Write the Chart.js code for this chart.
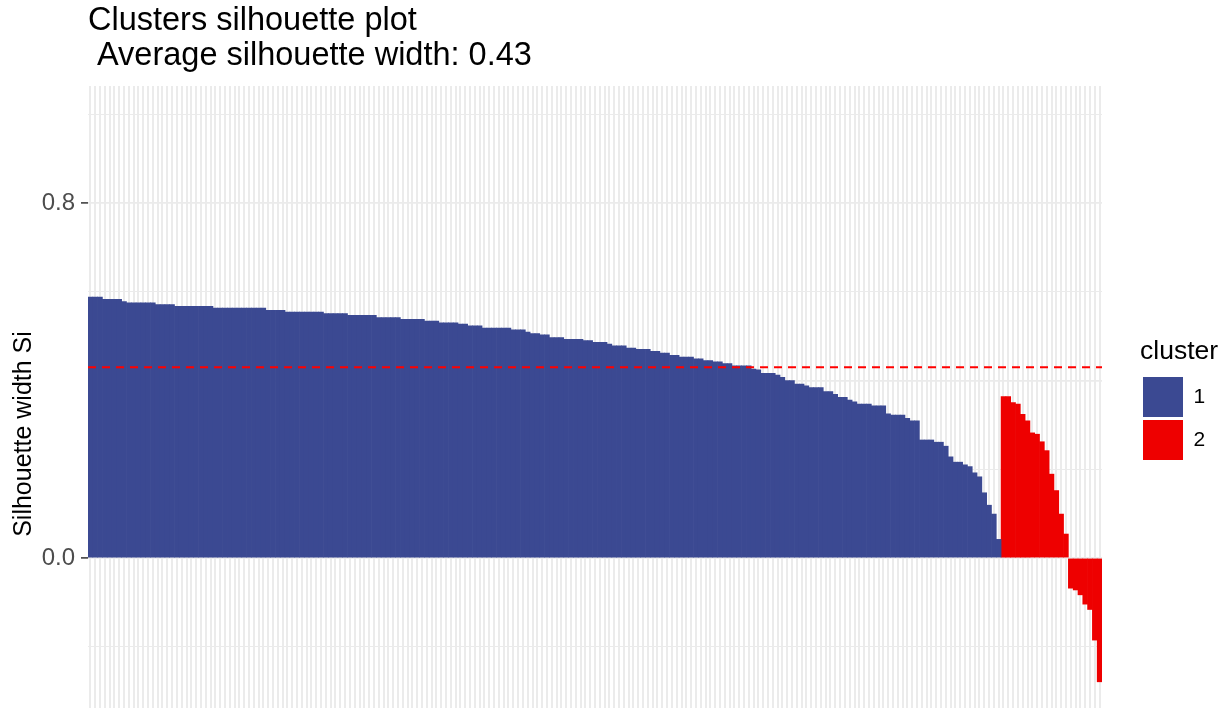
<!DOCTYPE html>
<html>
<head>
<meta charset="utf-8">
<script src="https://cdn.jsdelivr.net/npm/chart.js@4.4.1/dist/chart.umd.min.js"></script>
<style>
  html, body { margin: 0; padding: 0; background: #ffffff; overflow: hidden; }
  #wrap { width: 1227px; height: 708px; position: relative; overflow: hidden; }
</style>
</head>
<body>
<div id="wrap"><canvas id="chart" width="1227" height="782"></canvas></div>
<script>
// ---- data ----
const titleLines = ['Clusters silhouette plot', ' Average silhouette width: 0.43'];
const yAxisTitle = 'Silhouette width Si';
const legendTitle = 'cluster';
const clusterNames = ['1', '2'];
const averageWidth = 0.43;

const cluster1Values = [
  0.588,0.588,0.588,0.583,0.583,0.583,0.583,0.578,0.575,0.575,
  0.575,0.575,0.575,0.575,0.571,0.571,0.571,0.571,0.567,0.567,
  0.567,0.567,0.567,0.567,0.567,0.567,0.563,0.563,0.563,0.563,
  0.563,0.563,0.563,0.563,0.563,0.563,0.563,0.558,0.558,0.558,
  0.558,0.554,0.554,0.554,0.554,0.554,0.554,0.554,0.554,0.551,
  0.551,0.551,0.551,0.551,0.547,0.547,0.547,0.547,0.547,0.547,
  0.542,0.542,0.542,0.542,0.542,0.538,0.538,0.538,0.538,0.538,
  0.534,0.534,0.534,0.530,0.530,0.530,0.530,0.527,0.527,0.523,
  0.523,0.523,0.518,0.518,0.518,0.518,0.518,0.518,0.514,0.514,
  0.514,0.509,0.506,0.506,0.503,0.503,0.497,0.497,0.497,0.493,
  0.493,0.493,0.493,0.490,0.490,0.486,0.486,0.486,0.482,0.478,
  0.478,0.478,0.473,0.473,0.470,0.470,0.470,0.466,0.466,0.462,
  0.462,0.457,0.457,0.453,0.453,0.453,0.449,0.449,0.445,0.445,
  0.442,0.442,0.438,0.438,0.433,0.433,0.433,0.433,0.426,0.424,
  0.416,0.416,0.416,0.412,0.407,0.400,0.400,0.392,0.392,0.388,
  0.384,0.384,0.384,0.375,0.375,0.369,0.362,0.362,0.356,0.352,
  0.347,0.347,0.347,0.343,0.343,0.343,0.325,0.322,0.322,0.322,
  0.315,0.309,0.309,0.266,0.266,0.266,0.261,0.261,0.252,0.228,
  0.216,0.216,0.210,0.206,0.192,0.183,0.147,0.119,0.099,0.042
];
const cluster2Values = [
  0.364,0.364,0.350,0.347,0.324,0.309,0.282,0.279,0.262,0.242,
  0.189,0.152,0.099,0.054,-0.068,-0.072,-0.083,-0.104,-0.116,-0.185,
  -0.279
];

const yTickValues = [-0.4, -0.2, 0, 0.2, 0.4, 0.6, 0.8, 1.0];
const yMajorValues = [0, 0.4, 0.8];
const yLabelledValues = [0, 0.8];
const yTickLabels = ['0.0', '0.8'];

// ---- styles ----
const FONT = "'Liberation Sans', Arial, sans-serif";
const colors = ['#3B4992', '#EE0000'];
const gridColor = '#EBEBEB';
const legendBoxWidth = 87;

// ---- derived structures for the library ----
const allValues = cluster1Values.concat(cluster2Values);
const categories = allValues.map((_, i) => String(i + 1));
const data1 = cluster1Values.concat(cluster2Values.map(() => null));
const data2 = cluster1Values.map(() => null).concat(cluster2Values);

const isIn = (arr, v) => arr.some(a => Math.abs(a - v) < 1e-9);

const avgLinePlugin = {
  id: 'avgLine',
  afterDatasetsDraw(chart) {
    const { ctx, chartArea, scales } = chart;
    const y = scales.y.getPixelForValue(averageWidth);
    ctx.save();
    ctx.strokeStyle = '#FF0000';
    ctx.lineWidth = 2;
    ctx.setLineDash([8, 6]);
    ctx.beginPath();
    ctx.moveTo(chartArea.left, y);
    ctx.lineTo(chartArea.right, y);
    ctx.stroke();
    ctx.restore();
  }
};

const legendWidthPlugin = {
  id: 'legendWidth',
  afterInit(chart) {
    const lg = chart.legend;
    if (!lg) return;
    const fit = lg.fit.bind(lg);
    lg.fit = function () { fit(); this.width = legendBoxWidth; };
  }
};

new Chart(document.getElementById('chart'), {
  type: 'bar',
  data: {
    labels: categories,
    datasets: [
      { label: clusterNames[0], data: data1, backgroundColor: colors[0], borderWidth: 0, grouped: false,
        barPercentage: 1, categoryPercentage: 1 },
      { label: clusterNames[1], data: data2, backgroundColor: colors[1], borderWidth: 0, grouped: false,
        barPercentage: 1, categoryPercentage: 1 }
    ]
  },
  plugins: [avgLinePlugin, legendWidthPlugin],
  options: {
    responsive: false,
    animation: false,
    events: [],
    layout: { padding: { left: 0, right: 0, top: 0, bottom: 0 } },
    plugins: {
      tooltip: { enabled: false },
      title: {
        display: true,
        text: titleLines,
        align: 'start',
        fullSize: false,
        color: '#000000',
        font: { family: FONT, size: 32.5, weight: 'normal', lineHeight: 1.077 },
        padding: { top: 4, bottom: 12 }
      },
      legend: {
        display: true,
        position: 'right',
        align: 'center',
        fullSize: true,
        title: {
          display: true,
          text: legendTitle,
          position: 'start',
          color: '#000000',
          font: { family: FONT, size: 26.5 },
          padding: { top: 19.5, bottom: 3.7 }
        },
        labels: {
          boxWidth: 40,
          boxHeight: 40,
          padding: 3,
          color: '#000000',
          font: { family: FONT, size: 21 }
        }
      }
    },
    scales: {
      x: {
        type: 'category',
        offset: true,
        grid: { offset: false, color: gridColor, lineWidth: 2, drawTicks: false },
        border: { display: false },
        ticks: { display: false, autoSkip: false },
        afterFit: s => { s.height = 0; s.paddingLeft = 0; s.paddingRight = 0; }
      },
      y: {
        min: -0.5048,
        max: 1.0637,
        afterBuildTicks: s => { s.ticks = yTickValues.map(v => ({ value: v })); },
        ticks: {
          color: '#4D4D4D',
          font: { family: FONT, size: 24 },
          padding: 6,
          callback: v => {
            const k = yLabelledValues.findIndex(a => Math.abs(a - v) < 1e-9);
            return k >= 0 ? yTickLabels[k] : '';
          }
        },
        grid: {
          color: gridColor,
          lineWidth: c => (c.tick && isIn(yMajorValues, c.tick.value)) ? 1.8 : 1,
          drawTicks: true,
          tickLength: 7,
          tickWidth: 1.5,
          tickColor: c => (c.tick && isIn(yLabelledValues, c.tick.value)) ? '#333333' : 'rgba(0,0,0,0)'
        },
        border: { display: false },
        title: {
          display: true,
          text: yAxisTitle,
          color: '#000000',
          font: { family: FONT, size: 25 },
          padding: { top: 9, bottom: 0 }
        },
        afterFit: s => { s.width = 88; s.paddingTop = 0; s.paddingBottom = 0; }
      },
      yRight: {
        position: 'right',
        display: true,
        grid: { display: false, drawTicks: false },
        border: { display: false },
        ticks: { display: false },
        afterFit: s => { s.width = 38; }
      }
    }
  }
});
</script>
</body>
</html>
